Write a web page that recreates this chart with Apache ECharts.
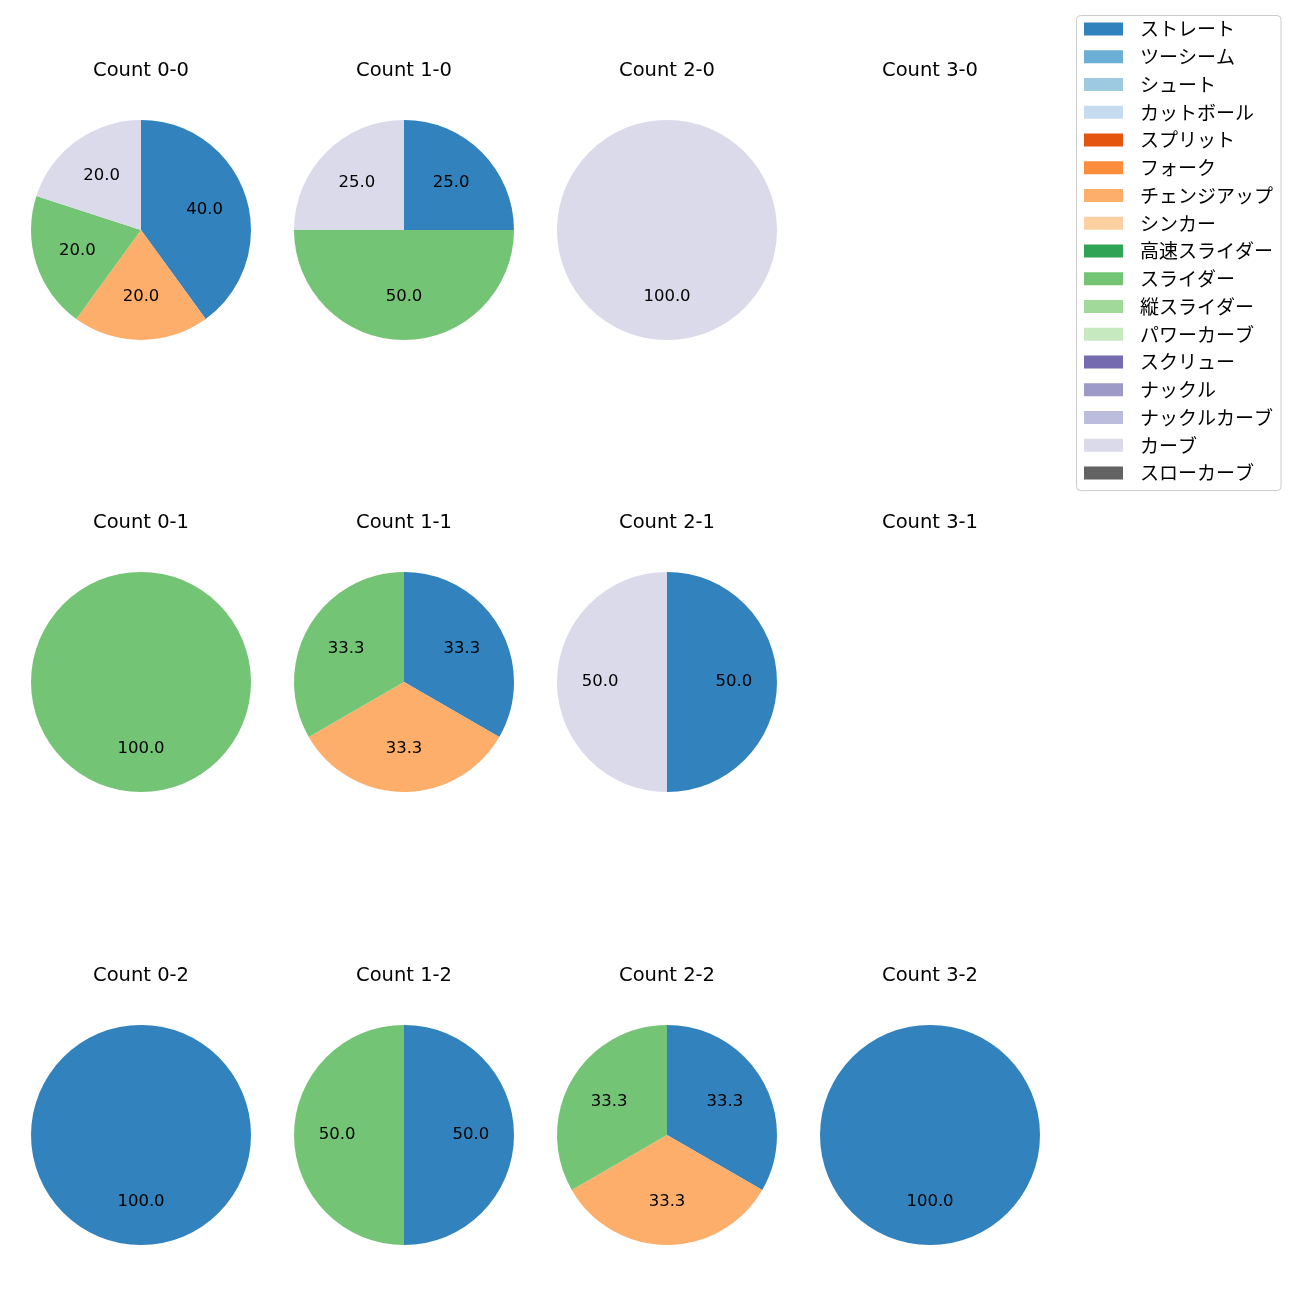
<!DOCTYPE html>
<html>
<head>
<meta charset="utf-8">
<script src="https://cdn.jsdelivr.net/npm/echarts@6/dist/echarts.min.js"></script>
<style>
html,body{margin:0;padding:0;background:#fff;}
#chart{width:1300px;height:1300px;}
</style>
</head>
<body>
<div id="chart"></div>
<script>
// Pitch types (legend order) and their colours
const pitchTypes = ['ストレート','ツーシーム','シュート','カットボール','スプリット','フォーク','チェンジアップ','シンカー','高速スライダー','スライダー','縦スライダー','パワーカーブ','スクリュー','ナックル','ナックルカーブ','カーブ','スローカーブ'];
const pitchColors = ['#3182bd','#6baed6','#9ecae1','#c6dbef','#e6550d','#fd8d3c','#fdae6b','#fdd0a2','#31a354','#74c476','#a1d99b','#c7e9c0','#756bb1','#9e9ac8','#bcbddc','#dadaeb','#636363'];

// Count titles (balls-strikes), row by row
const countTitles = ['Count 0-0','Count 1-0','Count 2-0','Count 3-0','Count 0-1','Count 1-1','Count 2-1','Count 3-1','Count 0-2','Count 1-2','Count 2-2','Count 3-2'];

// Percentages per pitch type (aligned with pitchTypes)
const count_0_0 = [40,0,0,0,0,0,20,0,0,20,0,0,0,0,0,20,0];
const count_1_0 = [25,0,0,0,0,0,0,0,0,50,0,0,0,0,0,25,0];
const count_2_0 = [0,0,0,0,0,0,0,0,0,0,0,0,0,0,0,100,0];
const count_3_0 = [0,0,0,0,0,0,0,0,0,0,0,0,0,0,0,0,0];
const count_0_1 = [0,0,0,0,0,0,0,0,0,100,0,0,0,0,0,0,0];
const count_1_1 = [33.3,0,0,0,0,0,33.3,0,0,33.3,0,0,0,0,0,0,0];
const count_2_1 = [50,0,0,0,0,0,0,0,0,0,0,0,0,0,0,50,0];
const count_3_1 = [0,0,0,0,0,0,0,0,0,0,0,0,0,0,0,0,0];
const count_0_2 = [100,0,0,0,0,0,0,0,0,0,0,0,0,0,0,0,0];
const count_1_2 = [50,0,0,0,0,0,0,0,0,50,0,0,0,0,0,0,0];
const count_2_2 = [33.3,0,0,0,0,0,33.3,0,0,33.3,0,0,0,0,0,0,0];
const count_3_2 = [100,0,0,0,0,0,0,0,0,0,0,0,0,0,0,0,0];

const countValues = [count_0_0,count_1_0,count_2_0,count_3_0,count_0_1,count_1_1,count_2_1,count_3_1,count_0_2,count_1_2,count_2_2,count_3_2];

// layout
const colX = [141, 404, 667, 930];
const rowY = [230, 682, 1135];
const R = 110;
const titleFont = 'DejaVu Sans';

const series = [];
// legend carrier series (invisible)
series.push({
  type: 'pie', name: 'legend', center: [-500, -500], radius: [0, 0], silent: true,
  label: {show: false}, labelLine: {show: false},
  data: pitchTypes.map((n, i) => ({name: n, value: 1, itemStyle: {color: pitchColors[i]}}))
});

const titles = [];
countValues.forEach((vals, k) => {
  const cx = colX[k % 4], cy = rowY[Math.floor(k / 4)];
  titles.push({
    text: countTitles[k], left: cx, top: cy - 171, textAlign: 'center', padding: 0,
    textStyle: {fontFamily: titleFont, fontSize: 19.5, fontWeight: 'normal', color: '#000', lineHeight: 24}
  });
  const data = [];
  vals.forEach((v, i) => { if (v > 0) data.push({name: pitchTypes[i], value: v, itemStyle: {color: pitchColors[i]}}); });
  if (!data.length) return;
  series.push({
    type: 'pie', center: [cx, cy], radius: [0, R], startAngle: 90, clockwise: true,
    silent: true, label: {show: false}, labelLine: {show: false},
    itemStyle: {borderWidth: 0}, data: data
  });
  // label carrier: labels at ~0.6 R
  series.push({
    type: 'pie', center: [cx, cy], radius: [0, R * 1.16], startAngle: 90, clockwise: true,
    silent: true, labelLine: {show: false},
    itemStyle: {color: 'rgba(0,0,0,0)', borderWidth: 0},
    label: {show: true, position: 'inside', fontFamily: titleFont, fontSize: 16.5, color: '#000',
      formatter: p => p.percent.toFixed(1)},
    data: data.map(d => ({name: d.name, value: d.value}))
  });
});

const chart = echarts.init(document.getElementById('chart'), null, {renderer: 'canvas'});
chart.setOption({
  animation: false,
  backgroundColor: '#fff',
  title: titles,
  legend: {
    orient: 'vertical', left: 1076.5, top: 15.5, icon: 'rect', itemWidth: 39, itemHeight: 13, itemGap: 7.75,
    selectedMode: false,
    padding: [3.6, 8, 7.5, 7.5],
    borderColor: '#cccccc', borderWidth: 1, borderRadius: 4, backgroundColor: '#fff',
    textStyle: {fontFamily: 'Noto Sans CJK JP', fontSize: 19, color: '#000', lineHeight: 20, padding: [0, 0, 0, 12]},
    data: pitchTypes
  },
  series: series
});
</script>
</body>
</html>
